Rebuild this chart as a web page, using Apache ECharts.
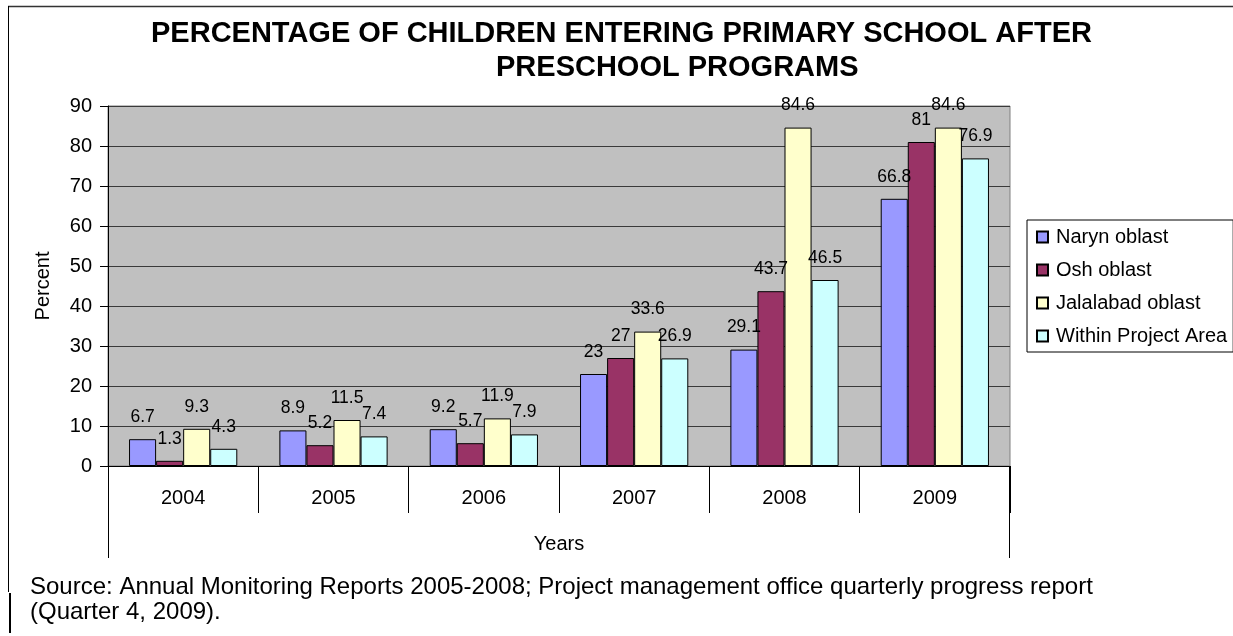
<!DOCTYPE html>
<html>
<head>
<meta charset="utf-8">
<style>
  html, body { margin: 0; padding: 0; background: #ffffff; }
  #chart { width: 1233px; height: 636px; }
</style>
<script src="https://cdn.jsdelivr.net/npm/echarts@6/dist/echarts.min.js"></script>
</head>
<body>
<div id="chart"></div>
<script>
// Survey years along the category axis
const years = ['2004', '2005', '2006', '2007', '2008', '2009'];

// Share of children entering primary school after preschool programs, %
const narynOblast = [6.7, 8.9, 9.2, 23, 29.1, 66.8];
const oshOblast = [1.3, 5.2, 5.7, 27, 43.7, 81];
const jalalabadOblast = [9.3, 11.5, 11.9, 33.6, 84.6, 84.6];
const withinProjectArea = [4.3, 7.4, 7.9, 26.9, 46.5, 76.9];

const seriesNames = ['Naryn oblast', 'Osh oblast', 'Jalalabad oblast', 'Within Project Area'];
const seriesValues = [narynOblast, oshOblast, jalalabadOblast, withinProjectArea];
const seriesColors = ['#9999FF', '#993366', '#FFFFCC', '#CCFFFF'];

const titleLine1 = 'PERCENTAGE OF CHILDREN ENTERING PRIMARY SCHOOL AFTER';
const titleLine2 = 'PRESCHOOL PROGRAMS';
const sourceLine1 = 'Source: Annual Monitoring Reports 2005-2008; Project management office quarterly progress report';
const sourceLine2 = '(Quarter 4, 2009).';

const FONT = 'Arial, "Liberation Sans", sans-serif';
const W = 1233, H = 636;
const plot = { left: 108, top: 106, right: 1010, bottom: 466 };

const chart = echarts.init(document.getElementById('chart'), null, { renderer: 'canvas' });

const series = seriesNames.map((name, i) => ({
  name: name,
  type: 'bar',
  data: seriesValues[i],
  barGap: '0%',
  barCategoryGap: '28%',
  itemStyle: { color: seriesColors[i], borderColor: '#000000', borderWidth: 1 },
  label: {
    show: true,
    position: 'top',
    distance: 13,
    color: '#000000',
    fontFamily: FONT,
    fontSize: 17.5
  },
  emphasis: { disabled: true }
}));

chart.setOption({
  animation: false,
  backgroundColor: '#ffffff',
  textStyle: { fontFamily: FONT },
  title: [
    {
      text: titleLine1, left: 151, top: 19, padding: 0,
      textStyle: { fontFamily: FONT, fontSize: 29, fontWeight: 'bold', color: '#000000', lineHeight: 29 }
    },
    {
      text: titleLine2, left: 496, top: 53, padding: 0,
      textStyle: { fontFamily: FONT, fontSize: 29, fontWeight: 'bold', color: '#000000', lineHeight: 29 }
    }
  ],
  legend: {
    orient: 'vertical',
    left: 1027,
    top: 220,
    padding: [7, 6, 6, 9],
    itemGap: 13,
    itemWidth: 11,
    itemHeight: 11,
    borderColor: '#000000',
    borderWidth: 1,
    backgroundColor: '#ffffff',
    icon: 'rect',
    textStyle: { fontFamily: FONT, fontSize: 20, color: '#000000', lineHeight: 20, padding: [0, 0, 0, 3] },
    data: seriesNames
  },
  grid: {
    left: plot.left,
    top: plot.top,
    right: W - plot.right,
    bottom: H - plot.bottom,
    show: true,
    backgroundColor: '#C0C0C0',
    borderColor: '#808080',
    borderWidth: 1
  },
  xAxis: {
    type: 'category',
    data: years,
    name: 'Years',
    nameLocation: 'middle',
    nameGap: 68,
    nameTextStyle: { fontFamily: FONT, fontSize: 20, color: '#000000', verticalAlign: 'top' },
    axisLine: { show: true, lineStyle: { color: '#000000', width: 1 } },
    axisTick: { show: true, interval: 0, length: 47, lineStyle: { color: '#000000', width: 1 } },
    axisLabel: { interval: 0, margin: 22, fontFamily: FONT, fontSize: 20, color: '#000000' },
    splitLine: { show: false }
  },
  yAxis: {
    type: 'value',
    min: 0,
    max: 90,
    interval: 10,
    name: 'Percent',
    nameLocation: 'middle',
    nameGap: 55,
    nameRotate: 90,
    nameTextStyle: { fontFamily: FONT, fontSize: 20, color: '#000000' },
    axisLine: { show: true, lineStyle: { color: '#000000', width: 1 } },
    axisTick: { show: true, inside: false, length: 8, lineStyle: { color: '#000000', width: 1 } },
    axisLabel: { margin: 16, fontFamily: FONT, fontSize: 20, color: '#000000' },
    splitLine: { show: true, lineStyle: { color: '#3a3a3a', width: 1 } }
  },
  series: series,
  graphic: [
    // chart frame: top and left edges
    { type: 'line', shape: { x1: 8, y1: 6.5, x2: W, y2: 6.5 }, style: { stroke: '#333333', lineWidth: 1.5 }, silent: true },
    { type: 'line', shape: { x1: 8.5, y1: 6, x2: 8.5, y2: 592 }, style: { stroke: '#000000', lineWidth: 1 }, silent: true },
    { type: 'line', shape: { x1: 10, y1: 593, x2: 10, y2: 633 }, style: { stroke: '#000000', lineWidth: 2 }, silent: true },
    // outer category-axis bracket down to the axis title
    { type: 'line', shape: { x1: plot.left + 0.5, y1: plot.bottom, x2: plot.left + 0.5, y2: 558 }, style: { stroke: '#000000', lineWidth: 1 }, silent: true },
    { type: 'line', shape: { x1: plot.right - 0.5, y1: plot.bottom, x2: plot.right - 0.5, y2: 558 }, style: { stroke: '#000000', lineWidth: 1 }, silent: true },
    // source note
    { type: 'text', x: 30, y: 575, style: { text: sourceLine1, font: '24px ' + FONT, fill: '#000000', verticalAlign: 'top' }, silent: true },
    { type: 'text', x: 30, y: 600, style: { text: sourceLine2, font: '24px ' + FONT, fill: '#000000', verticalAlign: 'top' }, silent: true }
  ]
});
</script>
</body>
</html>
